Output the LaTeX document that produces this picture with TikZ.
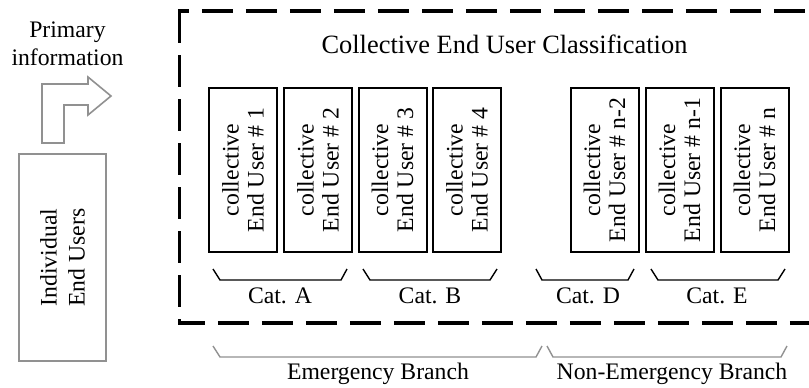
\documentclass[tikz,border=0pt]{standalone}
\usepackage{fontspec}
\setmainfont{Liberation Serif}
\definecolor{lgray}{RGB}{145,145,145}
\begin{document}
\begin{tikzpicture}[x=0.5pt,y=-0.5pt,
  ubox/.style={draw=black,line width=1pt,rotate=90,minimum width=82pt,minimum height=34pt,inner sep=0pt,align=center,font=\fontsize{11.85}{12.5}\selectfont},
  lbl/.style={font=\fontsize{11.85}{14}\selectfont,inner sep=0pt},
  brc/.style={draw=black,line width=0.7pt},
  gbrc/.style={draw=lgray,line width=0.7pt},
  dbox/.style={draw=black,line width=1.65pt,dash pattern=on 15.75pt off 6.25pt},
  gshape/.style={draw=lgray,line width=0.8pt,fill=white}
]
\useasboundingbox (0,0) rectangle (809,387);

% individual end users and arrow
\node[gshape,rotate=90,minimum width=103.5pt,minimum height=43.5pt,inner sep=0pt,align=center,
      font=\fontsize{11.85}{14}\selectfont] (ind) at (62.5,257.5) {Individual\\End Users};
\draw[gshape] (42,143) -- (42,84) -- (88,84) -- (88,77) -- (111,96) -- (88,115)
  -- (88,105) -- (64,105) -- (64,143) -- cycle;
\node[lbl,align=center] (prim) at (67.5,44) {Primary\\information};

% dashed frame
\coordinate (tl) at (179.5,11);
\coordinate (bl) at (179.5,323);
\coordinate (tl2) at (177.85,11);
\coordinate (bl2) at (177.85,323);
\coordinate (tr) at (809,11);
\coordinate (br) at (809,323);
\draw[dbox] (tl) -- (bl);
\draw[dbox,dash phase=10pt] (tl2) -- (tr);
\draw[dbox,dash phase=2pt] (bl2) -- (br);

\node[anchor=base,inner sep=0pt,font=\fontsize{13.2}{15}\selectfont] (title) at (504.5,53) {Collective End User Classification};

% collective end user boxes
\node[ubox] (u1) at (243,170) {collective\\End User \# 1};
\node[ubox] (u2) at (318,170) {collective\\End User \# 2};
\node[ubox] (u3) at (392.5,170) {collective\\End User \# 3};
\node[ubox] (u4) at (467,170) {collective\\End User \# 4};
\node[ubox] (un2) at (604.5,170) {collective\\End User \# n-2};
\node[ubox] (un1) at (679.5,170) {collective\\End User \# n-1};
\node[ubox] (un) at (754.5,170) {collective\\End User \# n};

% category braces
\draw[brc] (213,269) -- (220,280) -- (341,280) -- (347,269);
\draw[brc] (363,269) -- (370,280) -- (490,280) -- (497,269);
\draw[brc] (536,269) -- (542,280) -- (628,280) -- (634,269);
\draw[brc] (651,269) -- (658,280) -- (778,280) -- (785,269);
\node[lbl,anchor=base] (ca) at (280,303) {Cat. A};
\node[lbl,anchor=base] (cb) at (430,303) {Cat. B};
\node[lbl,anchor=base] (cd) at (588,303) {Cat. D};
\node[lbl,anchor=base] (ce) at (717,303) {Cat. E};

% branch braces
\draw[gbrc] (213,346) -- (220,357) -- (536,357) -- (542,346);
\draw[gbrc] (547,346) -- (553,357) -- (781,357) -- (787,346);
\node[lbl,anchor=base] (eb) at (378,379) {Emergency Branch};
\node[lbl,anchor=base] (nb) at (672,379) {Non-Emergency Branch};
\end{tikzpicture}
\end{document}
